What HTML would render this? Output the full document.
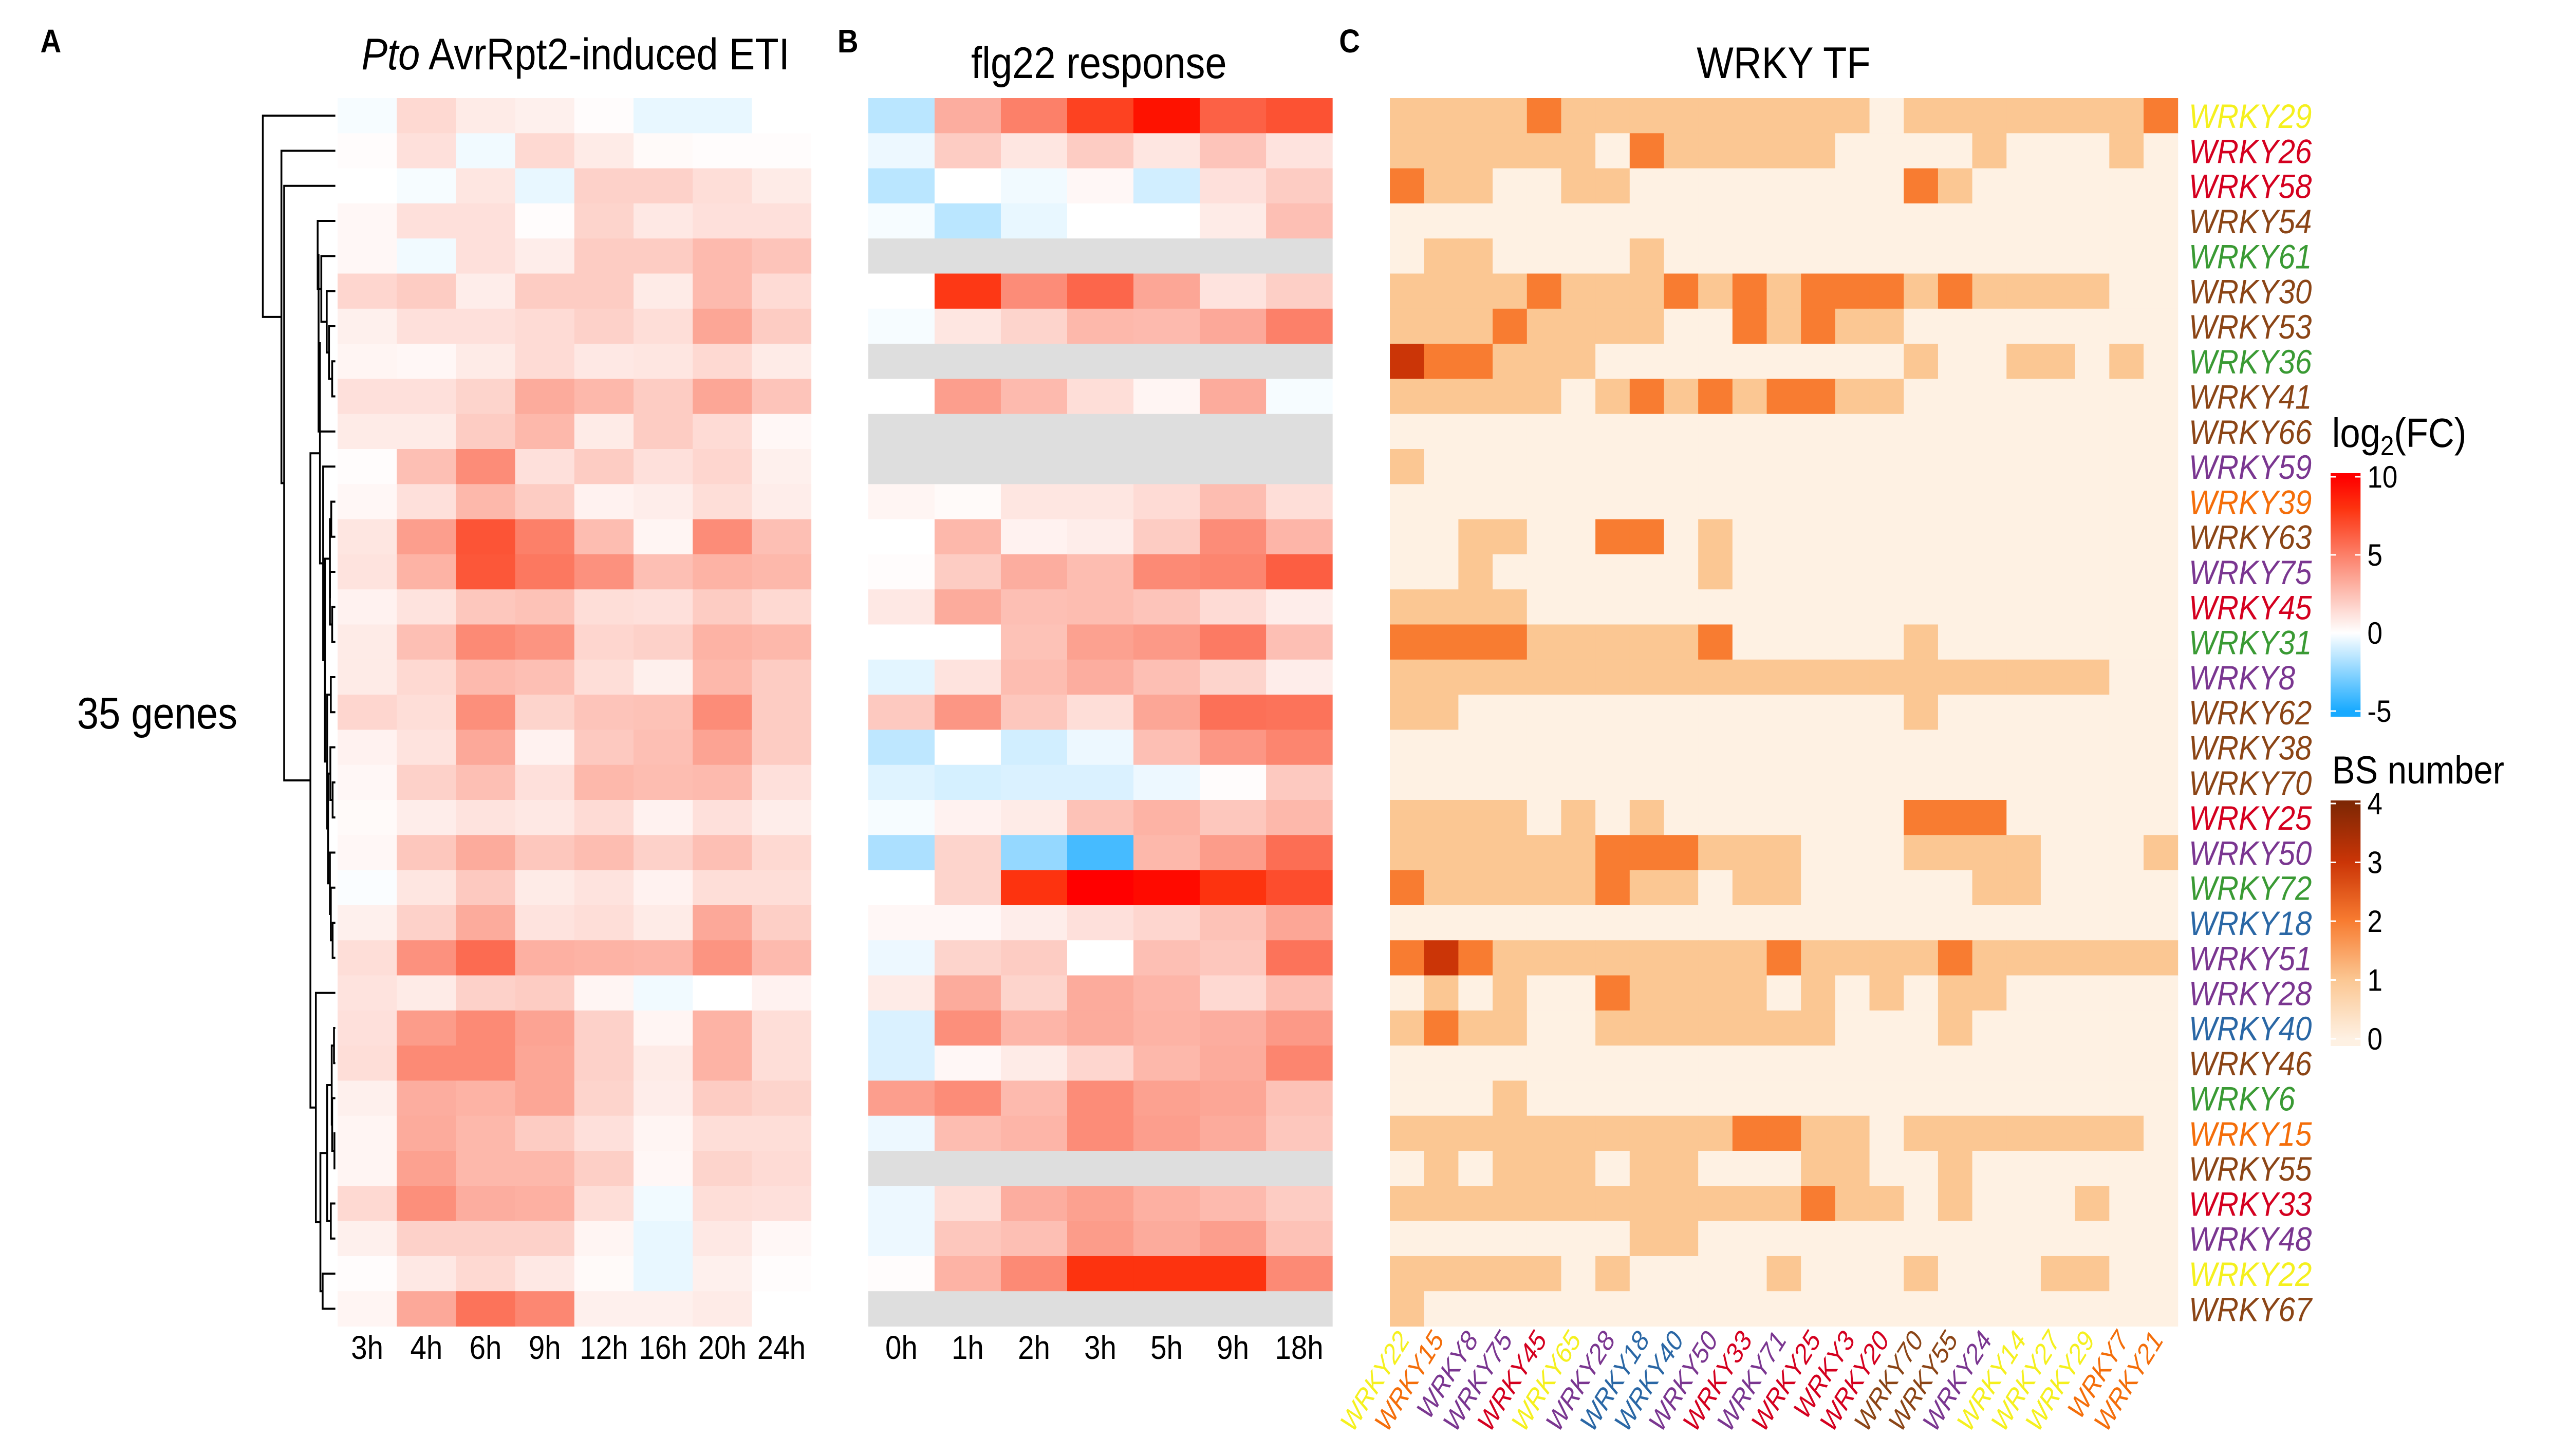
<!DOCTYPE html>
<html><head><meta charset="utf-8"><title>WRKY heatmaps</title>
<style>
html,body{margin:0;padding:0;background:#fff;width:100%;height:100%;overflow:hidden;}
svg{display:block;width:100vw;height:100vh;font-family:"Liberation Sans",Arial,sans-serif;}
</style></head>
<body>
<svg id="fig" xmlns="http://www.w3.org/2000/svg" viewBox="0 0 5669 2834" preserveAspectRatio="none">
<rect x="0" y="0" width="5669" height="2834" fill="#ffffff"/>
<text x="89" y="102" font-size="64" font-weight="bold">A</text>
<text x="1848" y="102" font-size="64" font-weight="bold">B</text>
<text x="2955" y="102" font-size="64" font-weight="bold">C</text>
<text x="1270" y="135" font-size="86" text-anchor="middle"><tspan font-style="italic">Pto</tspan> AvrRpt2-induced ETI</text>
<text x="2425" y="152" font-size="86" text-anchor="middle">flg22 response</text>
<text x="3936" y="152" font-size="86" text-anchor="middle">WRKY TF</text>
<text x="170" y="1418" font-size="86">35 genes</text>
<text x="5146" y="870" font-size="80">log<tspan font-size="54" dy="16">2</tspan><tspan dy="-16">(FC)</tspan></text>
<text x="5146" y="1525" font-size="76">BS number</text>
<g id="gA"></g>
<g id="gB"></g>
<g id="gC"></g>
<g id="gD"></g>
<g id="gL"></g>
</svg>
<script>
// ---- data ----
const timesA = ["3h","4h","6h","9h","12h","16h","20h","24h"];
const timesB = ["0h","1h","2h","3h","5h","9h","18h"];
const etiValues = [
[-0.2,1.5,0.8,0.6,0.1,-0.5,-0.5,0],
[0.1,1.2,-0.3,1.5,0.8,0.2,0.1,0.1],
[0,-0.2,1,-0.5,1.8,1.8,1.3,0.8],
[0.3,1.2,1.2,0.1,1.7,0.9,1.2,1.2],
[0.3,-0.3,1.2,0.7,2,2,2.7,2.3],
[1.6,2,0.7,2,2,0.8,2.7,1.4],
[0.6,1.2,1.2,1.4,1.8,1.3,3.5,2],
[0.4,0.3,0.8,1.4,0.9,1,1.5,0.8],
[1.2,1.2,1.7,3.3,2.8,2,3.5,2.3],
[0.8,0.8,2,2.8,0.8,2,1.4,0.3],
[0.1,2.5,4.5,1.2,2,1.2,1.6,0.6],
[0.3,1.2,2.8,2,0.5,0.7,1.3,0.7],
[1,3.8,6.7,5,2.6,0.4,4.5,2.5],
[1.1,3,6.6,5.3,4.3,2.5,3,2.8],
[0.5,1.1,2.2,2.4,1.3,1.2,2,1.5],
[0.8,2.5,4.6,4.2,1.6,1.8,3,2.8],
[0.8,1.5,2.7,2.5,1.3,0.6,2.8,2],
[1.6,1.3,4.4,1.7,2.3,2.4,4.5,2],
[0.5,1.1,3.4,0.5,2.1,2.5,3.6,2],
[0.3,1.8,2.5,1.2,2.8,2.6,2.7,1.2],
[0.2,0.7,1.1,0.9,1.4,0.5,1.2,0.7],
[0.3,2.2,3.3,2.2,2.6,1.8,2.5,1.5],
[-0.1,1,2.1,0.8,1.1,0.5,1.3,1.3],
[0.6,1.8,3.3,1.1,1.3,0.8,3.4,1.9],
[1.3,4.3,5.8,3.1,3,2.9,4.2,2.7],
[1.1,0.8,1.8,2,0.4,-0.3,0,0.5],
[1.2,3.9,4.6,3.6,1.8,0.4,3,1.3],
[1.3,4.6,4.6,3.5,1.8,0.8,3,1.3],
[0.6,3.2,3,3.5,1.7,0.7,2,1.7],
[0.4,3.3,2.8,2,1.2,0.4,1.3,1.3],
[0.4,3.7,2.8,2.8,1.9,0.3,1.7,1.4],
[1.5,4.4,3.2,3.1,1.3,-0.3,1.3,1.2],
[0.6,1.8,1.8,1.8,0.4,-0.5,0.9,0.3],
[0.1,0.9,1.5,0.9,0.2,-0.5,0.6,0.1],
[0.4,3.4,5.5,4.7,0.6,0.6,0.8,0]
];
const flgValues = [
[-1.5,3.2,5,7.4,9.3,6.2,6.8],
[-0.4,2,1,2,1,2.3,1.1],
[-1.5,0,-0.3,0.3,-1,1.2,2],
[-0.2,-1.5,-0.5,0,0,0.8,2.5],
null,
[0,7.8,4.5,6,3.5,1.1,1.9],
[-0.2,1,1.7,2.8,2.7,3.4,5],
null,
[0,3.8,2.7,1.3,0.4,3.3,-0.2],
null,
null,
[0.4,0.2,1,1,1.4,2.6,1.3],
[0,2.8,0.5,0.7,2,4.5,2.9],
[0.1,2,3.2,2.6,4.6,4.8,6.3],
[0.9,3.3,2.5,2.6,2.3,1.4,0.7],
[0,0,2.4,3.7,4,5.2,2.5],
[-0.6,1.1,2.6,3.2,2.5,1.7,0.7],
[2.1,4.1,2.2,1.3,3.5,5.6,5.5],
[-1.4,0,-1,-0.4,2.5,4.1,4.8],
[-0.7,-0.9,-0.8,-0.8,-0.4,0.1,2.1],
[-0.2,0.5,0.8,2.4,3,2.2,2.8],
[-1.8,1.7,-2.3,-4,2.8,3.9,5.7],
[0,1.7,8,10,9.6,8,7],
[0.3,0.3,0.7,1.2,1.6,2.4,3.5],
[-0.4,1.7,2,0,2.5,2.2,5.5],
[0.8,3.3,1.7,3.3,2.9,1.5,2.6],
[-0.8,4.4,2.9,3.3,3,3.2,4],
[-0.8,0.3,0.8,1.6,2.8,3.3,4.8],
[3.8,4.5,2.7,4.5,3.7,3.5,2.4],
[-0.4,2.6,2.9,4.5,3.8,3.3,2.2],
null,
[-0.4,1.3,3.2,3.7,3.1,2.7,2],
[-0.4,2.2,2.5,3.9,3.3,3.8,2.4],
[0.1,3,4.6,8,8,8,4.6],
null
];
const rowTF = ["WRKY29","WRKY26","WRKY58","WRKY54","WRKY61","WRKY30","WRKY53","WRKY36","WRKY41","WRKY66","WRKY59","WRKY39","WRKY63","WRKY75","WRKY45","WRKY31","WRKY8","WRKY62","WRKY38","WRKY70","WRKY25","WRKY50","WRKY72","WRKY18","WRKY51","WRKY28","WRKY40","WRKY46","WRKY6","WRKY15","WRKY55","WRKY33","WRKY48","WRKY22","WRKY67"];
const rowGroup = ["y","r","r","b","g","b","b","g","b","b","p","o","b","p","r","g","p","b","b","b","r","p","g","u","p","p","u","b","g","o","b","r","p","y","b"];
const colTF = ["WRKY22","WRKY15","WRKY8","WRKY75","WRKY45","WRKY65","WRKY28","WRKY18","WRKY40","WRKY50","WRKY33","WRKY71","WRKY25","WRKY3","WRKY20","WRKY70","WRKY55","WRKY24","WRKY14","WRKY27","WRKY29","WRKY7","WRKY21"];
const colGroup = ["y","o","p","p","r","y","p","u","u","p","r","p","r","r","r","b","b","p","y","y","y","o","o"];
const bsValues = [
"11112111111111011111112",
"11111102111110000100010",
"21100110000000021000000",
"00000000000000000000000",
"01100001000000000000000",
"11112111212122212111100",
"11121111002121100000000",
"32211100000000010011010",
"11111012121221100000000",
"00000000000000000000000",
"10000000000000000000000",
"00000000000000000000000",
"00110022010000000000000",
"00100000010000000000000",
"11110000000000000000000",
"22221111120000010000000",
"11111111111111111111100",
"11000000000000010000000",
"00000000000000000000000",
"00000000000000000000000",
"11110101000000022200000",
"11111122211100011110001",
"21111121101100000110000",
"00000000000000000000000",
"23211111111211112111111",
"01010021111010101100000",
"12110011111110001000000",
"00000000000000000000000",
"00010000000000000000000",
"11111111112211011111110",
"01011101100011001000000",
"11111111111121101000100",
"00000001100000000000000",
"11111010000100010001100",
"10000000000000000000000"
];
const fcTicks = [10,5,0,-5];
const bsTicks = [4,3,2,1,0];

// ---- geometry / scales ----
const NS = "http://www.w3.org/2000/svg";
const ROW_Y0 = 191, ROW_H = 68.3;
const A_X0 = 745, A_W = 130.6;
const B_X0 = 1916, B_W = 146.3;
const C_X0 = 3067, C_W = 75.6;
const groupColor = {y:"#F5F01E", r:"#D4001F", b:"#8B4516", g:"#3A9A34", p:"#7A3690", o:"#F46E0A", u:"#2A67A5"};
function yRow(r){ return ROW_Y0 + r*ROW_H; }
function xA(c){ return A_X0 + c*A_W; }
function xB(c){ return B_X0 + c*B_W; }
function xC(c){ return C_X0 + c*C_W; }
function fcColor(v){
  if (v === null || v === undefined) return "#DEDEDE";
  if (v >= 0){
    const t = Math.min(v,10)/10;
    const R = Math.round(255 - 3*Math.sin(Math.PI*t));
    const G = Math.round(255*(1-t));
    const B = Math.round(Math.max(0, 255 - 300*t));
    return "rgb("+R+","+G+","+B+")";
  } else {
    const t = Math.min(-v,5)/5;
    return "rgb("+Math.round(255-231*t)+","+Math.round(255-85*t)+",255)";
  }
}
const bsPalette = ["#FEF1E3","#FBC793","#F87C31","#CB3507","#7F2704"];
function bsColor(n){ return bsPalette[n]; }
function el(tag, attrs, parent){
  const e = document.createElementNS(NS, tag);
  for (const k in attrs) e.setAttribute(k, attrs[k]);
  parent.appendChild(e);
  return e;
}
const gA = document.getElementById("gA"), gB = document.getElementById("gB"),
      gC = document.getElementById("gC"), gD = document.getElementById("gD"),
      gL = document.getElementById("gL");

// panel A
etiValues.forEach((row, r) => {
  row.forEach((v, c) => {
    const cell = el("rect", {x:xA(c), y:yRow(r), width:A_W+0.6, height:ROW_H+0.6, fill:fcColor(v)}, gA);
    
    
  });
});
timesA.forEach((t, c) => {
  const tx = el("text", {x:xA(c)+A_W/2, y:2645, "font-size":64, "text-anchor":"middle"}, gA);
  tx.textContent = t;
  
  
});
// panel B
flgValues.forEach((row, r) => {
  for (let c = 0; c < timesB.length; c++){
    const v = row === null ? null : row[c];
    const cell = el("rect", {x:xB(c), y:yRow(r), width:B_W+0.6, height:ROW_H+0.6, fill:fcColor(v)}, gB);
    
    
  }
});
timesB.forEach((t, c) => {
  const tx = el("text", {x:xB(c)+B_W/2, y:2645, "font-size":64, "text-anchor":"middle"}, gB);
  tx.textContent = t;
  
  
});
// panel C
bsValues.forEach((row, r) => {
  for (let c = 0; c < colTF.length; c++){
    const n = parseInt(row[c], 10);
    const cell = el("rect", {x:xC(c), y:yRow(r), width:C_W+0.6, height:ROW_H+0.6, fill:bsColor(n)}, gC);
    
    
  }
});
rowTF.forEach((name, r) => {
  const tx = el("text", {x:4830, y:yRow(r)+ROW_H/2+24, "font-size":66, "font-style":"italic", fill:groupColor[rowGroup[r]]}, gC);
  tx.textContent = name;
  
  
});
colTF.forEach((name, c) => {
  const cx = xC(c) + C_W/2 + 8, cy = 2608;
  const tx = el("text", {x:cx, y:cy, "font-size":54, "font-style":"italic", "text-anchor":"end", fill:groupColor[colGroup[c]], transform:"rotate(-55 "+cx+" "+cy+")"}, gC);
  tx.textContent = name;
  
  
});

// dendrogram: [x, left, right], leaves are row indices
const tree = [580, 0, [621, 1, [627, 2, [685,
  [706,
    [703, [701, 3, [709, 4, [721, 5, [726, 6, [733, 7, 8]]]]], 9],
    [713, 10, [717, [728, [731, 11, 12], [728, 13, [733, 14, 15]]],
                     [722, [730, 16, 17], [724, [729, 18, [734, 19, 20]], [728, 21, [730, 22, [734, 23, 24]]]]]]]],
  [697, 25, [707, [722, [732, [737, 26, 27], [733, 28, [738, 29, 30]]], [730, 31, 32]], [712, 33, 34]]]
]]]];
function drawNode(node){
  if (typeof node === "number") return {x:740, y:yRow(node)+ROW_H/2};
  const a = drawNode(node[1]), b = drawNode(node[2]);
  const x = node[0];
  const ln = el("path", {d:"M"+a.x+" "+a.y+"H"+x+"V"+b.y+"H"+b.x, fill:"none", stroke:"#000", "stroke-width":4}, gD);
  
  
  return {x:x, y:(a.y+b.y)/2};
}
drawNode(tree);

// legends
const defs = el("defs", {}, gL);
const grad = el("linearGradient", {id:"fcGrad", gradientUnits:"userSpaceOnUse", x1:0, y1:929, x2:0, y2:1384}, defs);
[10,8,6,5,4,3,2,1,0,-1,-2,-3,-4,-5].forEach(v => {
  el("stop", {offset:((10-v)/15), "stop-color":fcColor(v)}, grad);
});
const fcBar = el("rect", {x:5143, y:921, width:66, height:474, fill:"url(#fcGrad)"}, gL);


function fcY(v){ return 1232 - v*30.4; }
fcTicks.forEach(v => {
  const y = fcY(v);
  const t1 = el("path", {d:"M5143 "+y+"h12M5197 "+y+"h12", stroke:"#fff", "stroke-width":3}, gL);
  
  
  const tx = el("text", {x:5224, y:y+21, "font-size":60}, gL);
  tx.textContent = v;
  
  
});
const grad2 = el("linearGradient", {id:"bsGrad", gradientUnits:"userSpaceOnUse", x1:0, y1:1564, x2:0, y2:2022}, defs);
[4,3,2,1,0].forEach(v => {
  el("stop", {offset:((4-v)/4), "stop-color":bsColor(v)}, grad2);
});
const bsBar = el("rect", {x:5143, y:1558, width:66, height:478, fill:"url(#bsGrad)"}, gL);


function bsY(v){ return 2022 - v*114.5; }
bsTicks.forEach(v => {
  const y = bsY(v);
  const t1 = el("path", {d:"M5143 "+y+"h12M5197 "+y+"h12", stroke:"#fff", "stroke-width":3}, gL);
  
  
  const tx = el("text", {x:5224, y:y+21, "font-size":60}, gL);
  tx.textContent = v;
  
  
});
</script>
</body></html>
